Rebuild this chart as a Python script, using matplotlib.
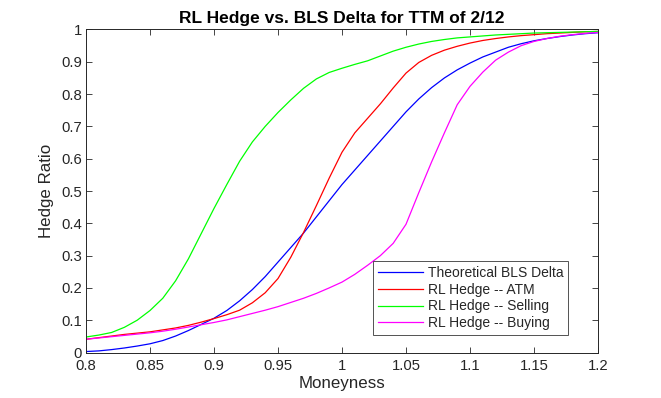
import matplotlib
matplotlib.use('Agg')
import matplotlib.pyplot as plt
import matplotlib.ticker as ticker

plt.rcParams['font.family'] = ['Liberation Sans', 'DejaVu Sans']

# moneyness grid, step 0.01
moneyness = [0.80, 0.81, 0.82, 0.83, 0.84, 0.85, 0.86, 0.87, 0.88, 0.89,
             0.90, 0.91, 0.92, 0.93, 0.94, 0.95, 0.96, 0.97, 0.98, 0.99,
             1.00, 1.01, 1.02, 1.03, 1.04, 1.05, 1.06, 1.07, 1.08, 1.09,
             1.10, 1.11, 1.12, 1.13, 1.14, 1.15, 1.16, 1.17, 1.18, 1.19, 1.20]

bls_delta = [0.003, 0.005, 0.009, 0.014, 0.020, 0.027, 0.037, 0.051, 0.068, 0.087,
             0.106, 0.130, 0.160, 0.195, 0.235, 0.280, 0.325, 0.370, 0.420, 0.470,
             0.520, 0.565, 0.610, 0.655, 0.700, 0.745, 0.785, 0.820, 0.850, 0.875,
             0.896, 0.915, 0.930, 0.945, 0.956, 0.965, 0.972, 0.978, 0.983, 0.987, 0.990]

rl_atm = [0.041, 0.046, 0.051, 0.056, 0.060, 0.064, 0.070, 0.076, 0.084, 0.094,
          0.105, 0.117, 0.131, 0.154, 0.185, 0.229, 0.295, 0.372, 0.455, 0.540,
          0.620, 0.680, 0.725, 0.770, 0.819, 0.865, 0.898, 0.920, 0.936, 0.948,
          0.958, 0.966, 0.972, 0.977, 0.981, 0.984, 0.987, 0.989, 0.991, 0.993, 0.994]

rl_selling = [0.048, 0.054, 0.062, 0.078, 0.100, 0.130, 0.168, 0.222, 0.290, 0.368,
              0.446, 0.520, 0.592, 0.652, 0.700, 0.743, 0.782, 0.818, 0.847, 0.867,
              0.880, 0.892, 0.903, 0.918, 0.933, 0.945, 0.955, 0.963, 0.969, 0.974,
              0.977, 0.980, 0.983, 0.985, 0.987, 0.989, 0.990, 0.991, 0.992, 0.993, 0.994]

rl_buying = [0.041, 0.045, 0.049, 0.053, 0.057, 0.061, 0.066, 0.072, 0.079, 0.086,
             0.093, 0.101, 0.111, 0.121, 0.131, 0.142, 0.155, 0.168, 0.183, 0.200,
             0.218, 0.242, 0.270, 0.300, 0.338, 0.397, 0.495, 0.590, 0.680, 0.767,
             0.824, 0.868, 0.905, 0.930, 0.950, 0.963, 0.972, 0.979, 0.984, 0.988, 0.991]

labels = ['Theoretical BLS Delta', 'RL Hedge -- ATM', 'RL Hedge -- Selling', 'RL Hedge -- Buying']

fig = plt.figure(figsize=(6.61, 3.98), dpi=100)
ax = fig.add_axes([0.1301, 0.1143, 0.7746, 0.8116])

ax.plot(moneyness, bls_delta, color=(0, 0, 1), linewidth=0.9, label=labels[0])
ax.plot(moneyness, rl_atm, color=(1, 0, 0), linewidth=0.9, label=labels[1])
ax.plot(moneyness, rl_selling, color=(0, 1, 0), linewidth=0.9, label=labels[2])
ax.plot(moneyness, rl_buying, color=(1, 0, 1), linewidth=0.9, label=labels[3])

ax.set_xlim(0.8, 1.2)
ax.set_ylim(0, 1)
ax.set_xticks([0.8, 0.85, 0.9, 0.95, 1.0, 1.05, 1.1, 1.15, 1.2])
ax.set_yticks([0, 0.1, 0.2, 0.3, 0.4, 0.5, 0.6, 0.7, 0.8, 0.9, 1.0])
ax.xaxis.set_major_formatter(ticker.FormatStrFormatter('%g'))
ax.yaxis.set_major_formatter(ticker.FormatStrFormatter('%g'))
ax.tick_params(direction='in', top=True, right=True, length=4, width=0.6,
               labelsize=10.7, colors='#262626', labelcolor='#262626')
ax.tick_params(axis='x', pad=5)
ax.tick_params(axis='y', pad=3)
for sp in ax.spines.values():
    sp.set_color('#262626')
    sp.set_linewidth(0.7)

ax.set_xlabel('Moneyness', fontsize=12.2, color='#262626', labelpad=2)
ax.set_ylabel('Hedge Ratio', fontsize=12.2, color='#262626', labelpad=5)
ax.set_title('RL Hedge vs. BLS Delta for TTM of 2/12', fontsize=12.5, fontweight='bold', color='#000000', pad=5)

leg = ax.legend(loc='lower right', bbox_to_anchor=(0.9414, 0.054), fontsize=10,
                frameon=True, fancybox=False, borderpad=0.35, labelspacing=0.2,
                handlelength=3.25, handletextpad=0.35, borderaxespad=0)
leg.get_frame().set_edgecolor('#262626')
leg.get_frame().set_linewidth(0.7)
for t in leg.get_texts():
    t.set_color('#262626')

fig.savefig('out.png', dpi=100)
plt.close(fig)
